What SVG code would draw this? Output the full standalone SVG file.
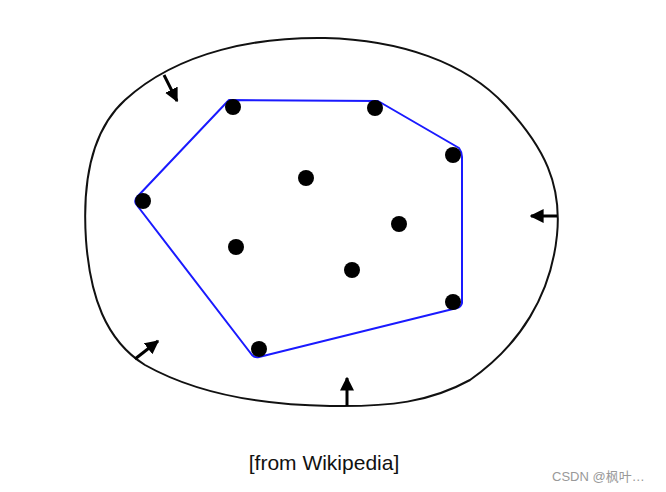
<svg xmlns="http://www.w3.org/2000/svg" width="666" height="492" viewBox="0 0 666 492">
<style>
.blob{fill:none;stroke:#111;stroke-width:2}
.hull{fill:none;stroke:#1a1aff;stroke-width:2;stroke-linejoin:round}
.pt{fill:#000}
.arr{stroke:#000;stroke-width:3;fill:none;marker-end:url(#ah)}
.cap{font-family:"Liberation Sans",Arial,sans-serif;font-size:21px;fill:#111}
.wm{font-family:"Liberation Sans","Noto Sans CJK SC",sans-serif;font-size:13px;fill:#999}
</style>
<defs>
<marker id="ah" viewBox="0 0 10 10" refX="9" refY="5" markerWidth="14" markerHeight="14" orient="auto" markerUnits="userSpaceOnUse">
<path d="M0,0 L10,5 L0,10 z" fill="#000"/>
</marker>
</defs>
<rect width="666" height="492" fill="#fff"/>
<g id="outer-boundary">
<path class="blob" d="M125,100 C180,50 260,37 325,38 C400,40 465,62 505,105 C545,148 562,185 557,235 C551,295 520,345 470,380 C430,402 390,407 330,406 C260,405 195,393 145,365 C105,340 90,295 86,240 C82,180 92,130 125,100 Z"/>
</g>
<g id="convex-hull">
<path class="hull" d="M229,100 L378,101 L459,148 Q462,152 462,157 L462,303 Q461,307 457,308 L259,357 Q255,358 252,355 L136,204 Q134,200 137,197 L227,102 Z"/>
</g>
<g id="points">
<circle class="pt" cx="233" cy="107" r="8"/>
<circle class="pt" cx="375" cy="108" r="8"/>
<circle class="pt" cx="453" cy="155" r="8"/>
<circle class="pt" cx="306" cy="178" r="8"/>
<circle class="pt" cx="143" cy="201" r="8"/>
<circle class="pt" cx="399" cy="224" r="8"/>
<circle class="pt" cx="236" cy="247" r="8"/>
<circle class="pt" cx="352" cy="270" r="8"/>
<circle class="pt" cx="453" cy="302" r="8"/>
<circle class="pt" cx="259" cy="349" r="8"/>
</g>
<g id="connectors">
<line class="arr" x1="164" y1="75" x2="177" y2="101"/>
<line class="arr" x1="557" y1="216" x2="531" y2="216"/>
<line class="arr" x1="135" y1="359" x2="158" y2="341"/>
<line class="arr" x1="347" y1="406" x2="347" y2="378"/>
</g>
<text class="cap" x="324" y="470" text-anchor="middle">[from Wikipedia]</text>
<text class="wm" x="552" y="481">CSDN @枫叶…</text>
</svg>
